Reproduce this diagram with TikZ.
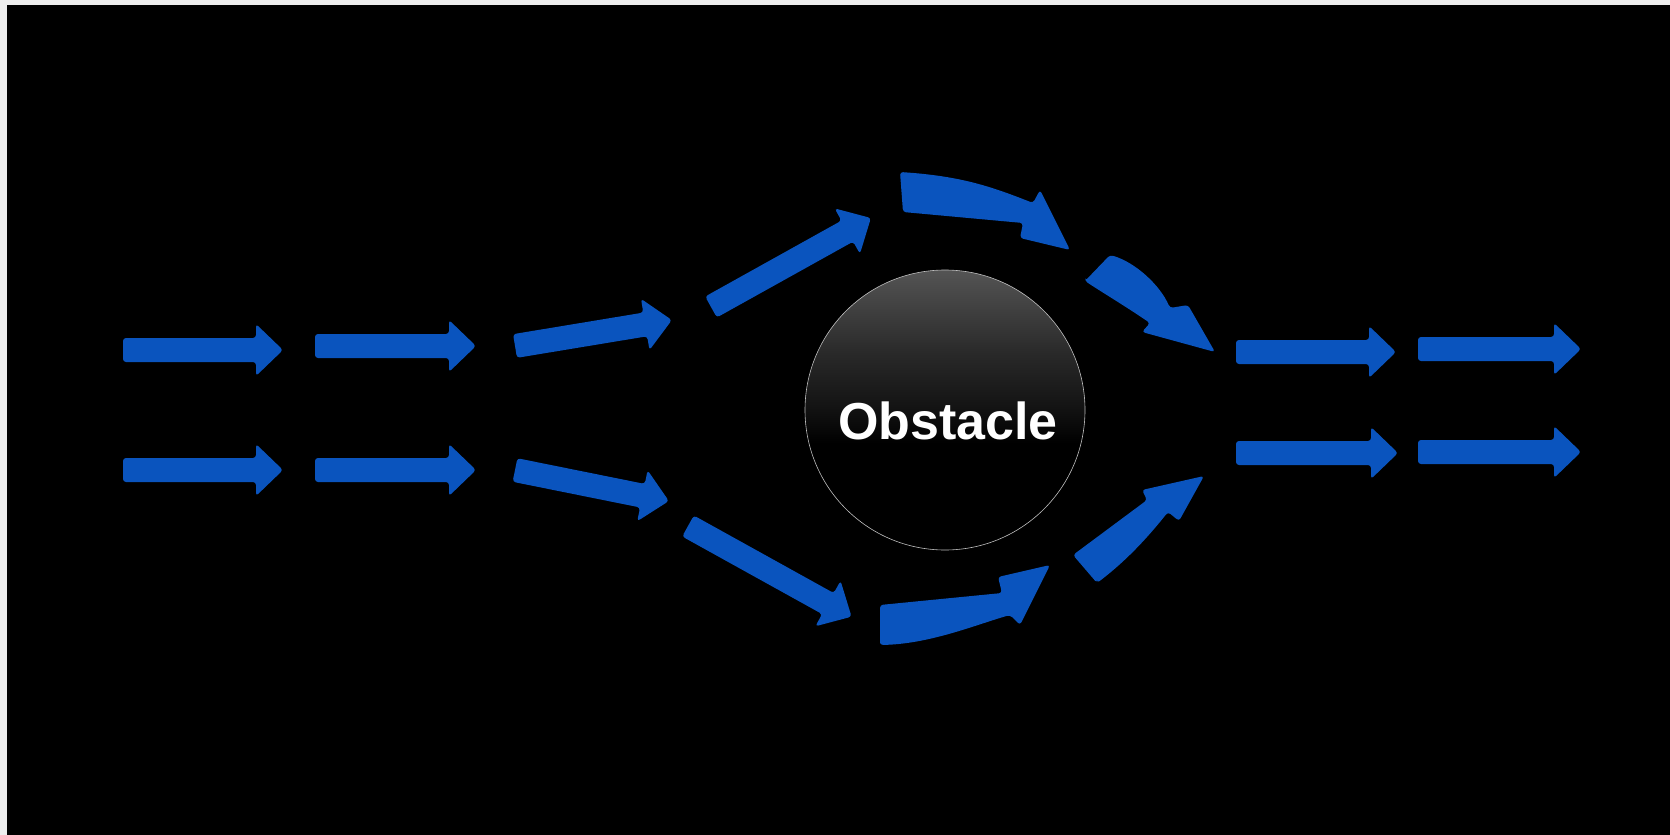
\documentclass[tikz,border=0pt]{standalone}
\usepackage{fontspec}
\newfontfamily\helv{Liberation Sans}
\definecolor{flowblue}{RGB}{10,84,190}
\definecolor{edgegray}{RGB}{238,238,238}
\pgfdeclareverticalshading{obstshade}{100bp}{color(0bp)=(black); color(25bp)=(black); color(44bp)=(black); color(51bp)=(black!92!white); color(60bp)=(black!84!white); color(75bp)=(black!67!white); color(100bp)=(black!67!white)}
\newcommand\FlowArrow[4]{%
  \begin{scope}[shift={(#1,#2)},rotate=#3]
    \fill[flowblue, rounded corners=3pt] (0,-12) -- ({#4-27},-12) -- ({#4-27},-26) -- (#4,0) -- ({#4-27},26) -- ({#4-27},12) -- (0,12) -- cycle;
  \end{scope}}
\begin{document}
\begin{tikzpicture}[x=1pt,y=-1pt,
  bluefill/.style={fill=flowblue, rounded corners=3pt}]
\useasboundingbox (0,0) rectangle (1670,835);
\fill[edgegray] (0,0) rectangle (1670,835);
\fill[black] (7,5) rectangle (1670,835);
% straight arrows left
\FlowArrow{123}{350}{0}{160}
\FlowArrow{315}{346}{0}{161}
\FlowArrow{123}{470}{0}{160}
\FlowArrow{315}{470}{0}{161}
% slanted arrows
\FlowArrow{515}{346}{9.4}{159}
\FlowArrow{711}{307}{29.1}{183}
\FlowArrow{515}{470}{-11.4}{157}
\FlowArrow{688}{526}{-29}{187}
% straight arrows right
\FlowArrow{1236}{352}{0}{160}
\FlowArrow{1418}{349}{0}{163}
\FlowArrow{1236}{453}{0}{162}
\FlowArrow{1418}{452}{0}{163}
% curved arrows top
\path[bluefill] (903,212) -- (900,172) .. controls (960,176) and (990,186) .. (1033,203)
  -- (1040,190) -- (1070,250) -- (1020,238) -- (1023,223) -- cycle;
\path[bluefill] (1085,281) -- (1110,255) .. controls (1135,262) and (1160,285) .. (1170,308)
  -- (1188,305) -- (1215,352) -- (1142,332) -- (1150,323) .. controls (1125,306) and (1100,291) .. (1085,281) -- cycle;
% curved arrows bottom
\path[bluefill] (880,645) -- (880,605) -- (1002,593) -- (998,577) -- (1050,565) -- (1020,625)
  -- (1010,615) .. controls (975,625) and (930,644) .. (880,645) -- cycle;
\path[bluefill] (1097,583) -- (1073,555) -- (1147,500) -- (1142,490) -- (1204,476) -- (1179,521)
  -- (1168,512) .. controls (1152,532) and (1130,558) .. (1097,583) -- cycle;
% obstacle
\path[shading=obstshade, draw=white!75!black, line width=0.6pt] (945,410) circle (140);
\node[circle, minimum size=280pt, inner sep=0pt] (obstacle) at (945,410) {};
\node[anchor=base, text=white, font=\helv\bfseries\fontsize{52}{60}\selectfont, inner sep=0pt] (label) at (948,439) {Obstacle};
\end{tikzpicture}
\end{document}
